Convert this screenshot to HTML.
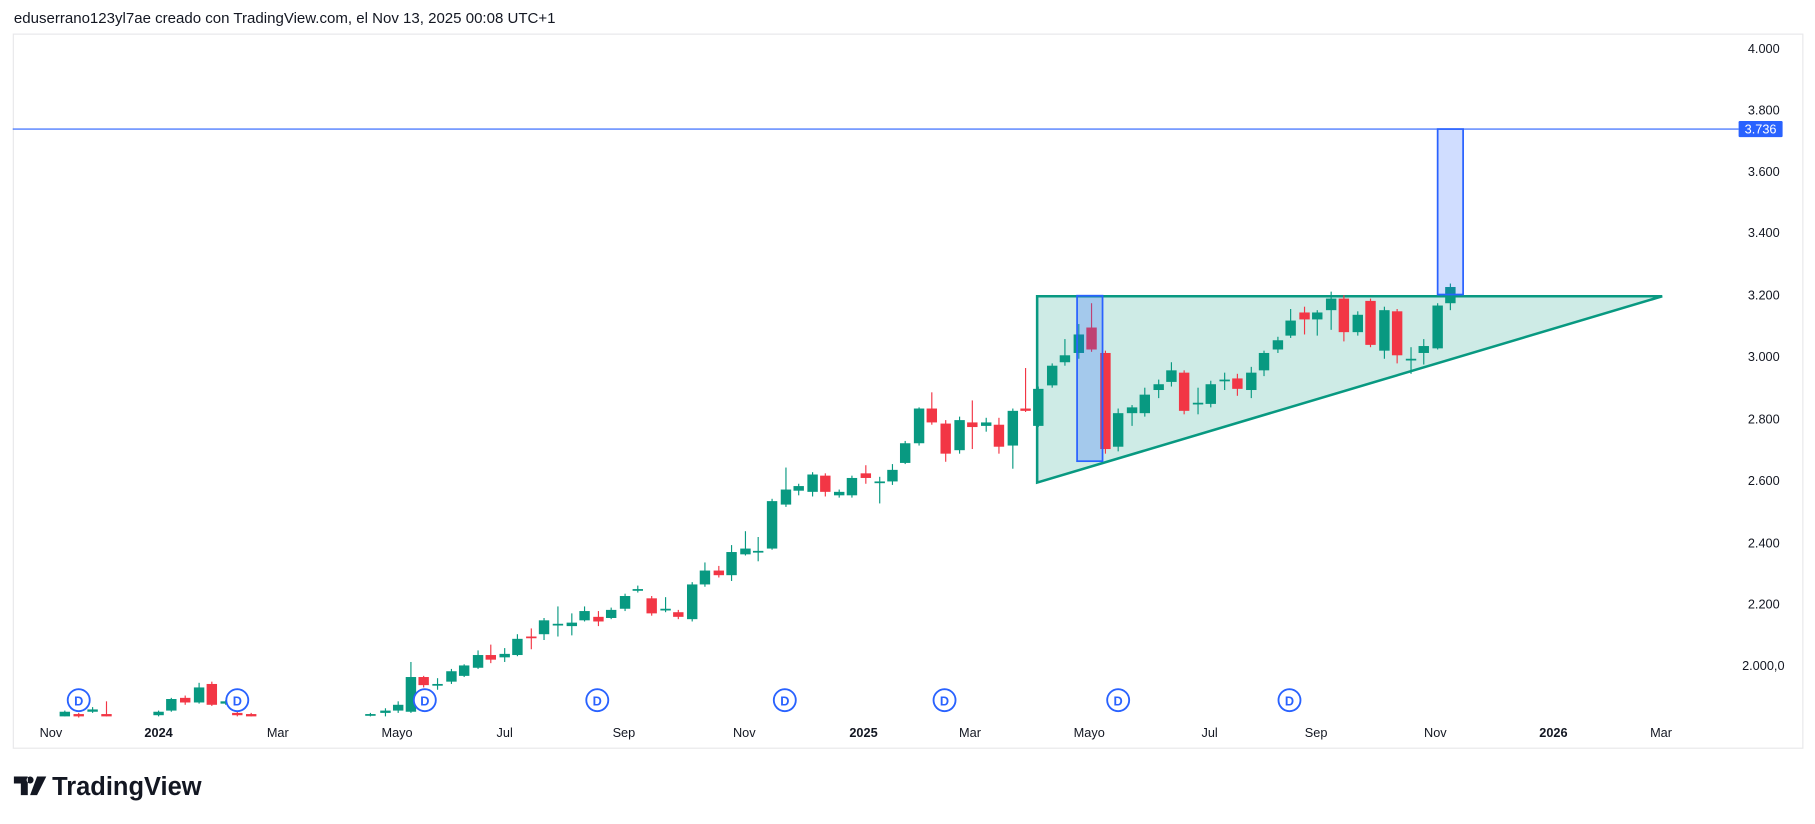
<!DOCTYPE html>
<html><head><meta charset="utf-8"><style>
html,body{margin:0;padding:0;background:#fff;width:1815px;height:824px;overflow:hidden}
svg{display:block}
text{font-family:"Liberation Sans","DejaVu Sans",sans-serif}
</style></head><body>
<svg id="s" width="1815" height="824" viewBox="0 0 1568 712" preserveAspectRatio="none" xmlns="http://www.w3.org/2000/svg">
<rect x="0" y="0" width="1568" height="712" fill="#fff"/>
<text x="12" y="20" font-size="13" fill="#131722">eduserrano123yl7ae creado con TradingView.com, el Nov 13, 2025 00:08 UTC+1</text>
<rect x="11.5" y="29.5" width="1546" height="617" fill="#fff" stroke="#e8e8ea"/>
<g font-size="11" fill="#131722">
<text x="1510" y="46">4.000</text><text x="1510" y="99">3.800</text><text x="1510" y="152">3.600</text>
<text x="1510" y="205">3.400</text><text x="1510" y="259">3.200</text><text x="1510" y="312">3.000</text>
<text x="1510" y="366">2.800</text><text x="1510" y="419">2.600</text><text x="1510" y="473">2.400</text>
<text x="1510" y="526">2.200</text><text x="1505" y="579">2.000,0</text>
</g>
<g font-size="11" fill="#131722" text-anchor="middle">
<text x="44" y="637">Nov</text><text x="137" y="637" font-weight="bold">2024</text><text x="240" y="637">Mar</text>
<text x="343" y="637">Mayo</text><text x="436" y="637">Jul</text><text x="539" y="637">Sep</text>
<text x="643" y="637">Nov</text><text x="746" y="637" font-weight="bold">2025</text><text x="838" y="637">Mar</text>
<text x="941" y="637">Mayo</text><text x="1045" y="637">Jul</text><text x="1137" y="637">Sep</text>
<text x="1240" y="637">Nov</text><text x="1342" y="637" font-weight="bold">2026</text><text x="1435" y="637">Mar</text>
</g>
<line x1="11" y1="111.5" x2="1502" y2="111.5" stroke="#2962ff" stroke-width="1"/>
<polygon points="896,256 1436,256 896,417" fill="#089981" fill-opacity="0.2" stroke="#089981" stroke-width="2.2"/>
<g id="c"></g>
<rect x="930.5" y="255.5" width="22" height="143" fill="#2962ff" fill-opacity="0.25" stroke="#2962ff" stroke-width="1.5"/>
<rect x="1242" y="111.5" width="22" height="143" fill="#2962ff" fill-opacity="0.22" stroke="#2962ff" stroke-width="1.5"/>
<rect x="1502" y="104.5" width="38" height="14" rx="1" fill="#2962ff"/>
<text x="1521" y="115.5" font-size="11" fill="#fff" text-anchor="middle">3.736</text>
<g id="d" font-size="11" font-weight="bold" fill="#2962ff" text-anchor="middle"></g>
<g transform="translate(12,669)">
<path d="M0 2h12v16h-6v-10h-6z M14 2a3 3 0 1 0 0.01 0z M20 2h8l-8 16h-6z" fill="#131722"/>
</g>
<text x="45" y="687" font-size="22" font-weight="bold" fill="#131722">TradingView</text>
</svg>
<script>
var G="#089981",R="#f23645";
var c=[[56,619,615,614,619],[68,617,619,616,620],[80,615,613,611,616],[92,617,619,606,619],[137,618,615,614,619],[148,614,604,603,615],[160,603,607,601,609],[172,607,594,590,608],[183,591,609,589,610],[195,608,606,605,609],[205,616,618,614,619],[217,617,619,616,619],[320,618,617,616,619],[333,616,614,612,619],[344,614,609,606,616],[355,615,585,572,616],[366,585,592,584,594],[378,592,591,586,596],[390,589,580,578,591],[401,584,575,574,585],[413,577,566,562,578],[424,566,570,557,573],[436,568,565,560,572],[447,566,552,548,567],[459,550,551,543,561],[470,548,536,534,553],[482,539,539,524,550],[494,541,538,530,549],[505,536,528,524,537],[517,533,537,528,541],[528,534,527,525,535],[540,526,515,513,528],[551,509,509,506,512],[563,517,530,515,532],[575,527,526,516,529],[586,529,533,527,535],[598,535,505,503,537],[609,505,493,486,507],[621,493,497,489,499],[632,497,477,471,502],[644,479,474,459,480],[655,476,476,464,485],[667,474,433,431,475],[679,436,423,404,438],[690,424,420,418,428],[702,425,410,408,429],[713,411,425,409,429],[725,428,425,423,430],[736,428,413,411,430],[748,409,413,402,418],[760,416,416,412,435],[771,416,406,401,419],[782,400,383,381,401],[794,383,353,352,385],[805,353,365,339,367],[817,366,392,363,399],[829,389,363,360,392],[840,365,369,346,388],[852,368,365,361,373],[863,367,386,361,392],[875,385,355,353,405],[886,353,355,318,356],[897,368,336,334,369],[909,333,316,314,335],[920,313,307,293,316],[932,305,289,280,310],[943,283,302,262,304],[955,305,388,303,392],[966,386,357,353,390],[978,357,352,350,368],[989,357,341,335,360],[1001,337,332,328,344],[1012,330,320,313,334],[1023,322,355,320,358],[1035,348,348,335,358],[1046,349,332,329,352],[1058,328,328,322,337],[1069,327,336,323,342],[1081,337,322,317,344],[1092,320,305,303,325],[1104,302,294,291,305],[1115,290,277,267,292],[1127,270,276,265,289],[1138,276,270,268,290],[1150,268,258,252,285],[1161,258,287,255,295],[1173,287,272,269,290],[1184,260,298,258,300],[1196,303,268,265,310],[1207,269,307,267,314],[1219,310,310,300,323],[1230,305,299,293,315],[1242,301,264,262,302],[1253,262,248,245,268]];
var h="";
c.forEach(function(a){var x=a[0],o=a[1],cl=a[2],col=cl<=o?G:R;
var t=Math.min(o,cl),b=Math.max(Math.max(o,cl)-t,1.5);
h+='<line x1="'+x+'" y1="'+a[3]+'" x2="'+x+'" y2="'+a[4]+'" stroke="'+col+'" stroke-width="1"/>';
h+='<rect x="'+(x-4.5)+'" y="'+t+'" width="9" height="'+b+'" fill="'+col+'"/>';});
document.getElementById("c").innerHTML=h;
var d="";[68,205,367,516,678,816,966,1114].forEach(function(x){
d+='<circle cx="'+x+'" cy="605" r="9.5" fill="#fff" stroke="#2962ff" stroke-width="1.6"/><text x="'+x+'" y="609.5">D</text>';});
document.getElementById("d").innerHTML=d;
</script>
</body></html>
